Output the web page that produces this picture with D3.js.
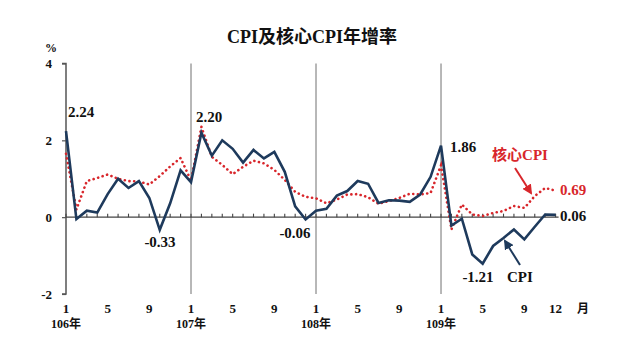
<!DOCTYPE html>
<html><head><meta charset="utf-8">
<script src="https://cdn.jsdelivr.net/npm/d3@7"></script>
<style>body{margin:0;background:#fff}svg{display:block}</style>
</head><body><svg id="c" width="640" height="360"></svg>
<script>
const title = "CPI及核心CPI年增率";
const years = ["106年","107年","108年","109年"];
const monthLabels = [1,5,9];
const cpi = [2.24,-0.05,0.17,0.12,0.60,1.00,0.76,0.94,0.50,-0.33,0.36,1.22,
  0.91,2.20,1.60,2.00,1.78,1.42,1.75,1.53,1.70,1.18,0.28,-0.06,
  0.17,0.22,0.56,0.68,0.94,0.87,0.37,0.44,0.43,0.40,0.59,1.05,
  1.86,-0.22,-0.04,-0.97,-1.21,-0.75,-0.54,-0.32,-0.58,-0.25,0.07,0.06];
const core = [1.65,0.20,0.94,1.02,1.11,1.00,0.94,0.93,0.85,1.07,1.32,1.54,
  0.95,2.35,1.57,1.36,1.12,1.31,1.47,1.40,1.23,0.97,0.66,0.53,
  0.49,0.36,0.46,0.59,0.60,0.52,0.35,0.42,0.50,0.61,0.59,0.63,
  1.35,-0.32,0.33,0.07,0.03,0.11,0.16,0.29,0.24,0.55,0.76,0.69];
const yTicks = [4,2,0,-2];

const svg = d3.select("#c");
const serif = "'Liberation Serif','Times New Roman','Noto Sans CJK TC',serif";
const x = d3.scaleLinear().domain([0,47]).range([66,555.6]);
const y = d3.scaleLinear().domain([-2,4]).range([294,63.5]);

// title
svg.append("text").attr("x",312).attr("y",43).attr("text-anchor","middle")
  .attr("font-family",serif).attr("font-weight","bold").attr("font-size",18).attr("fill","#111").text(title);

// year separators
svg.selectAll(".yl").data([12,24,36]).enter().append("line")
  .attr("x1",d=>x(d)).attr("x2",d=>x(d)).attr("y1",y(4)).attr("y2",y(-2))
  .attr("stroke","#a0a0a0").attr("stroke-width",1.5);

// y axis
const yAxis = d3.axisLeft(y).tickValues(yTicks).tickSize(4).tickFormat(d=>String(d));
const ya = svg.append("g").attr("transform",`translate(${x(0)},0)`).call(yAxis);
ya.select(".domain").attr("stroke","#555").attr("stroke-width",1.5).attr("d",`M-4,${y(4)}H0V${y(-2)}H-4`);
ya.selectAll(".tick line").attr("stroke","#555").attr("stroke-width",1.2);
ya.selectAll(".tick text").attr("font-family",serif).attr("font-weight","bold").attr("font-size",13).attr("fill","#111").attr("x",-14);
svg.append("text").attr("x",51).attr("y",52).attr("text-anchor","middle")
  .attr("font-family",serif).attr("font-weight","bold").attr("font-size",12).attr("fill","#111").text("%");

// zero axis with month ticks
svg.append("line").attr("x1",x(0)).attr("x2",x(47)+3).attr("y1",y(0)).attr("y2",y(0))
  .attr("stroke","#444").attr("stroke-width",1.3);
svg.selectAll(".mt").data(d3.range(48)).enter().append("line")
  .attr("x1",d=>x(d)).attr("x2",d=>x(d)).attr("y1",y(0)).attr("y2",y(0)-3.5)
  .attr("stroke","#444").attr("stroke-width",1.1);

// month labels
const mlab = [];
years.forEach((yr,i)=>monthLabels.forEach(m=>mlab.push({i:i*12+m-1,t:String(m)})));
mlab.push({i:47,t:"12"});
svg.selectAll(".ml").data(mlab).enter().append("text")
  .attr("x",d=>x(d.i)).attr("y",313).attr("text-anchor","middle")
  .attr("font-family",serif).attr("font-weight","bold").attr("font-size",13).attr("fill","#111").text(d=>d.t);
svg.append("text").attr("x",583).attr("y",313).attr("text-anchor","middle")
  .attr("font-family",serif).attr("font-weight","bold").attr("font-size",12).attr("fill","#111").text("月");
svg.selectAll(".yr").data(years).enter().append("text")
  .attr("x",(d,i)=>x(i*12)).attr("y",328).attr("text-anchor","middle")
  .attr("font-family",serif).attr("font-weight","bold").attr("font-size",12).attr("fill","#111").text(d=>d);

// lines
const line = d3.line().x((d,i)=>x(i)).y(d=>y(d));
svg.append("path").datum(core).attr("d",line).attr("fill","none")
  .attr("stroke","#d8262b").attr("stroke-width",2.6).attr("stroke-linecap","round")
  .attr("stroke-dasharray","0.1 4.6");
svg.append("path").datum(cpi).attr("d",line).attr("fill","none")
  .attr("stroke","#1e3a5c").attr("stroke-width",2.6).attr("stroke-linejoin","miter");

// annotations
const ann = [
  {t:"2.24",x:68,y:117,a:"start",c:"#111"},
  {t:"2.20",x:196,y:122,a:"start",c:"#111"},
  {t:"-0.33",x:160,y:247,a:"middle",c:"#111"},
  {t:"-0.06",x:295,y:238,a:"middle",c:"#111"},
  {t:"1.86",x:450,y:152,a:"start",c:"#111"},
  {t:"-1.21",x:478,y:282,a:"middle",c:"#111"},
  {t:"CPI",x:507,y:282,a:"start",c:"#111"},
  {t:"0.69",x:560,y:195,a:"start",c:"#d8262b"},
  {t:"0.06",x:560,y:221,a:"start",c:"#111"},
  {t:"核心CPI",x:520,y:160,a:"middle",c:"#d8262b"}
];
svg.selectAll(".an").data(ann).enter().append("text")
  .attr("x",d=>d.x).attr("y",d=>d.y).attr("text-anchor",d=>d.a)
  .attr("font-family",serif).attr("font-weight","bold").attr("font-size",15).attr("fill",d=>d.c).text(d=>d.t);

// arrows
const defs = svg.append("defs");
[["ar","#d8262b"],["ab","#1e3a5c"]].forEach(([id,col])=>{
  defs.append("marker").attr("id",id).attr("viewBox","0 0 10 10").attr("refX",8).attr("refY",5)
    .attr("markerWidth",5).attr("markerHeight",5).attr("orient","auto")
    .append("path").attr("d","M0,0L10,5L0,10z").attr("fill",col);
});
svg.append("line").attr("x1",515).attr("y1",168).attr("x2",531).attr("y2",193)
  .attr("stroke","#d8262b").attr("stroke-width",2).attr("marker-end","url(#ar)");
svg.append("line").attr("x1",520).attr("y1",265).attr("x2",505).attr("y2",241)
  .attr("stroke","#1e3a5c").attr("stroke-width",2).attr("marker-end","url(#ab)");
</script></body></html>
